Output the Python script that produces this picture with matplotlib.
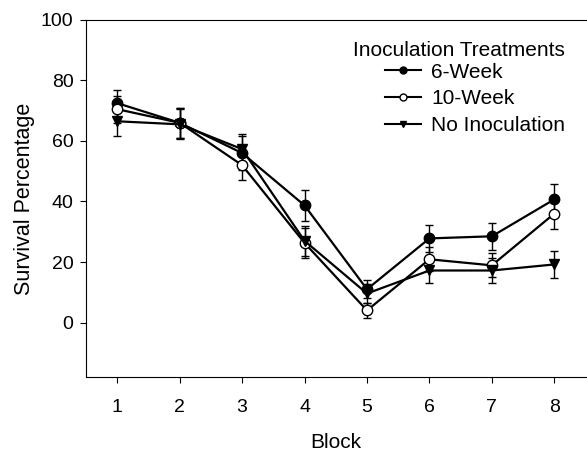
import numpy as np
import matplotlib
matplotlib.use('Agg')
from matplotlib import pyplot as plt
from matplotlib.lines import Line2D

plt.rcParams['font.family'] = ['Liberation Sans', 'DejaVu Sans']

blocks = [1, 2, 3, 4, 5, 6, 7, 8]

# survival percentage per treatment
week6 = [72.5, 66.0, 56.0, 38.7, 11.0, 27.8, 28.5, 40.7]
week6_err = [4.5, 5.0, 5.5, 5.0, 3.0, 4.5, 4.5, 5.0]
week10 = [70.5, 66.0, 52.0, 26.3, 4.0, 20.9, 18.9, 36.0]
week10_err = [4.5, 5.0, 5.0, 5.0, 2.5, 4.0, 4.0, 5.0]
no_inoc = [66.5, 65.5, 57.3, 27.0, 9.6, 17.2, 17.2, 19.2]
no_inoc_err = [5.0, 5.0, 5.0, 5.0, 3.0, 4.0, 4.0, 4.4]

labels = ['6-Week', '10-Week', 'No Inoculation']

fig = plt.figure(figsize=(5.87, 4.63), dpi=100)
ax = fig.add_axes([0.1465, 0.1857, 0.851, 0.7713])

ax.errorbar(blocks, week6, yerr=week6_err, color='black', marker='o', ms=7.5,
            mfc='black', mec='black', lw=1.6, capsize=3, elinewidth=1)
ax.errorbar(blocks, week10, yerr=week10_err, color='black', marker='o', ms=7.5,
            mfc='white', mec='black', lw=1.6, capsize=3, elinewidth=1)
ax.errorbar(blocks, no_inoc, yerr=no_inoc_err, color='black', marker='v', ms=7.5,
            mfc='black', mec='black', lw=1.6, capsize=3, elinewidth=1)

ax.set_xlim(0.5, 8.5)
ax.set_ylim(-18, 100)
ax.set_xticks(blocks)
ax.set_yticks([0, 20, 40, 60, 80, 100])
ax.tick_params(axis='y', direction='out', length=4, labelsize=14, pad=5)
ax.tick_params(axis='x', direction='out', length=4, labelsize=14, pad=12)
ax.spines['right'].set_visible(False)

ax.set_xlabel('Block', fontsize=15, labelpad=12)
ax.set_ylabel('Survival Percentage', fontsize=15.5, labelpad=4)

handles = [
    Line2D([], [], color='black', lw=1.5, marker='o', ms=5, mfc='black'),
    Line2D([], [], color='black', lw=1.5, marker='o', ms=5, mfc='white'),
    Line2D([], [], color='black', lw=1.5, marker='v', ms=5, mfc='black'),
]
leg = ax.legend(handles, labels, title='Inoculation Treatments', loc='upper right',
                bbox_to_anchor=(0.976, 0.965), frameon=False, fontsize=15,
                title_fontsize=15, handlelength=1.7, borderaxespad=0,
                labelspacing=0.38, handletextpad=0.5)
leg._legend_box.align = 'right'
leg._legend_box.sep = 2

fig.savefig('out.png', dpi=100)
